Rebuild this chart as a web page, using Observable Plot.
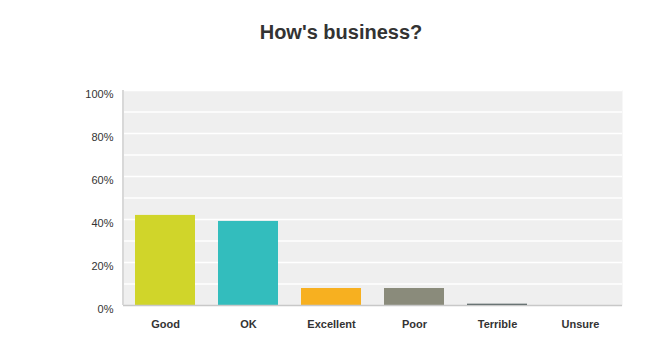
<!DOCTYPE html>
<html>
<head>
<meta charset="utf-8">
<script src="https://cdn.jsdelivr.net/npm/d3@7"></script>
<script src="https://cdn.jsdelivr.net/npm/@observablehq/plot@0.6"></script>
<style>
  html, body { margin: 0; padding: 0; background: #fff; }
  #title { width: 650px; height: 60px; box-sizing: border-box; padding-left: 32px; padding-top: 20px;
    text-align: center; font: bold 20px "Liberation Sans", Arial, sans-serif; color: #333; line-height: 24px; }
  #chart svg { display: block; }
</style>
</head>
<body>
<div id="title">How's business?</div>
<div id="chart"></div>
<script>
const categories = ["Good", "OK", "Excellent", "Poor", "Terrible", "Unsure"];
const percents = [41.9, 39.1, 7.9, 7.9, 0.6, 0];
const colors = ["#d0d52a", "#33bdbd", "#f7b020", "#8a8b7b", "#4a5858", "#999999"];
const yTicks = [0, 20, 40, 60, 80, 100];
const gridValues = [10, 20, 30, 40, 50, 60, 70, 80, 90, 100];

const data = categories.map((c, i) => ({category: c, value: percents[i], color: colors[i]}));

const leftLine = (index, scales, values, dimensions) => {
  const g = d3.create("svg:g");
  g.append("line")
    .attr("x1", dimensions.marginLeft).attr("x2", dimensions.marginLeft)
    .attr("y1", dimensions.marginTop).attr("y2", dimensions.height - dimensions.marginBottom)
    .attr("stroke", "#d8d8d8").attr("stroke-width", 2);
  return g.node();
};

const chart = Plot.plot({
  width: 650,
  height: 303,
  marginTop: 30,
  marginBottom: 58,
  marginLeft: 123,
  marginRight: 28,
  style: {fontFamily: "'Liberation Sans', Arial, sans-serif", fontSize: "11px", color: "#333", background: "#fff"},
  x: {domain: categories, paddingInner: 0.28, paddingOuter: 0.145, label: null},
  y: {domain: [0, 100], label: null},
  marks: [
    Plot.frame({fill: "#efefef", stroke: null}),
    Plot.gridY(gridValues, {stroke: "#fff", strokeOpacity: 1, strokeWidth: 1.5}),
    Plot.barY(data, {x: "category", y: "value", fill: "color"}),
    Plot.ruleY([0], {stroke: "#c8c8c8", strokeWidth: 1.5}),
    leftLine,
    Plot.axisY(yTicks, {tickSize: 0, tickPadding: 10, dy: 4, tickFormat: d => d + "%", fill: "#333", fontSize: 11}),
    Plot.axisX({tickSize: 0, tickPadding: 15, fontWeight: "bold", fill: "#333", fontSize: 11})
  ]
});
document.getElementById("chart").appendChild(chart);
</script>
</body>
</html>
